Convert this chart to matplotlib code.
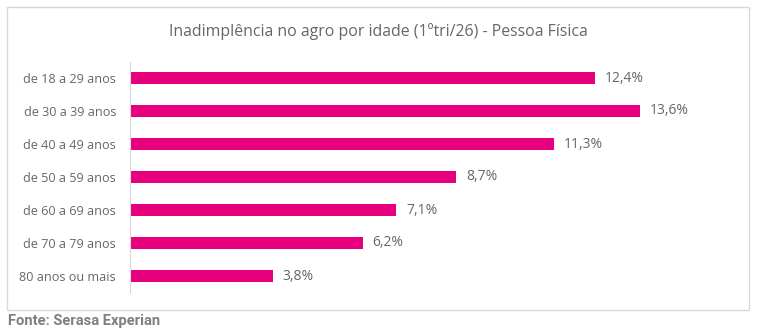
import matplotlib.pyplot as plt
from matplotlib.patches import Rectangle

categories = ["de 18 a 29 anos", "de 30 a 39 anos", "de 40 a 49 anos",
              "de 50 a 59 anos", "de 60 a 69 anos", "de 70 a 79 anos",
              "80 anos ou mais"]
values = [12.4, 13.6, 11.3, 8.7, 7.1, 6.2, 3.8]
value_labels = ["12,4%", "13,6%", "11,3%", "8,7%", "7,1%", "6,2%", "3,8%"]

plt.rcParams["font.family"] = ["Open Sans", "DejaVu Sans"]

fig = plt.figure(figsize=(7.58, 3.32), dpi=100)

# chart border
fig.patches.append(Rectangle((7 / 758, 1 - 310 / 332), 742 / 758, 303 / 332,
                             transform=fig.transFigure, fill=False,
                             edgecolor="#d9d9d9", linewidth=1))

ax = fig.add_axes([130 / 758, 1 - 292.5 / 332, 600 / 758, 231 / 332])
pos = list(range(len(categories)))
ax.barh(pos, values, height=0.37, color="#e6007e")
for p, v, lab in zip(pos, values, value_labels):
    ax.text(v + 0.27, p, lab, va="center", ha="left", fontsize=10, color="#666666")

ax.set_ylim(len(categories) - 0.5, -0.5)
ax.set_xlim(0, 16)
ax.set_yticks(pos)
ax.set_yticklabels(categories, fontsize=9.1, color="#666666")
ax.set_xticks([])
ax.tick_params(axis="y", length=0, pad=10)
for s in ["top", "right", "bottom"]:
    ax.spines[s].set_visible(False)
ax.spines["left"].set_color("#d9d9d9")

fig.text(378 / 758, 1 - 32 / 332, "Inadimplência no agro por idade (1ºtri/26) - Pessoa Física",
         ha="center", va="center", fontsize=11.4, color="#666666")
fig.text(8 / 758, 1 - 321 / 332, "Fonte: Serasa Experian", ha="left", va="center",
         fontsize=10.6, fontweight="bold", color="#7f7f7f", family=["Roboto", "DejaVu Sans"])

fig.savefig("out.png", dpi=100)
